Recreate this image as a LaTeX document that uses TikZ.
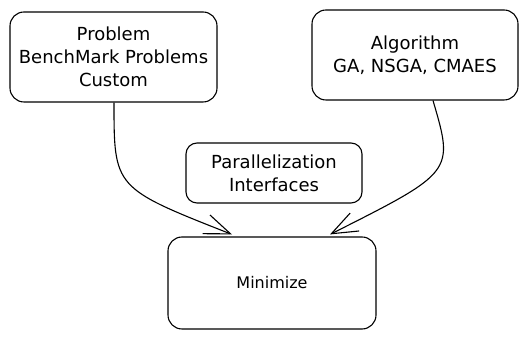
\documentclass[tikz,border=0pt]{standalone}
\usepackage{fontspec}
\setmainfont{DejaVu Sans}
\usetikzlibrary{arrows.meta}

\begin{document}
\begin{tikzpicture}[
    x=1pt, y=1pt,
    block/.style={draw, rectangle, rounded corners=14pt, line width=1.1pt, align=center, font=\fontsize{18}{23}\selectfont, inner sep=0pt},
    flow/.style={-{Straight Barb[length=26pt, width=20pt, line width=1.1pt]}, line width=1.1pt}
]
    \useasboundingbox (0,0) rectangle (527,339);

    % Inputs
    \node[block, minimum width=207pt, minimum height=90pt] (prob) at (113.5,282) {Problem\\BenchMark Problems\\Custom};
    \node[block, minimum width=206pt, minimum height=90pt] (algo) at (415,284) {Algorithm\\GA, NSGA, CMAES};

    % Middle
    \node[block, minimum width=176pt, minimum height=60pt, rounded corners=11pt] (para) at (274,166) {Parallelization\\Interfaces};

    % Output
    \node[block, minimum width=208pt, minimum height=92pt, font=\fontsize{16}{20}\selectfont] (mini) at (272,56) {Minimize};

    % Bends of the two links
    \coordinate (cornerL) at (114,151);
    \coordinate (cornerR) at (454,167);

    % Links
    \draw[flow] ([xshift=0.5pt]prob.south) .. controls (cornerL) and (cornerL) .. ([xshift=-40pt, yshift=2pt]mini.north);
    \draw[flow] ([xshift=18pt]algo.south) .. controls (cornerR) and (cornerR) .. ([xshift=58pt, yshift=2pt]mini.north);
\end{tikzpicture}
\end{document}
